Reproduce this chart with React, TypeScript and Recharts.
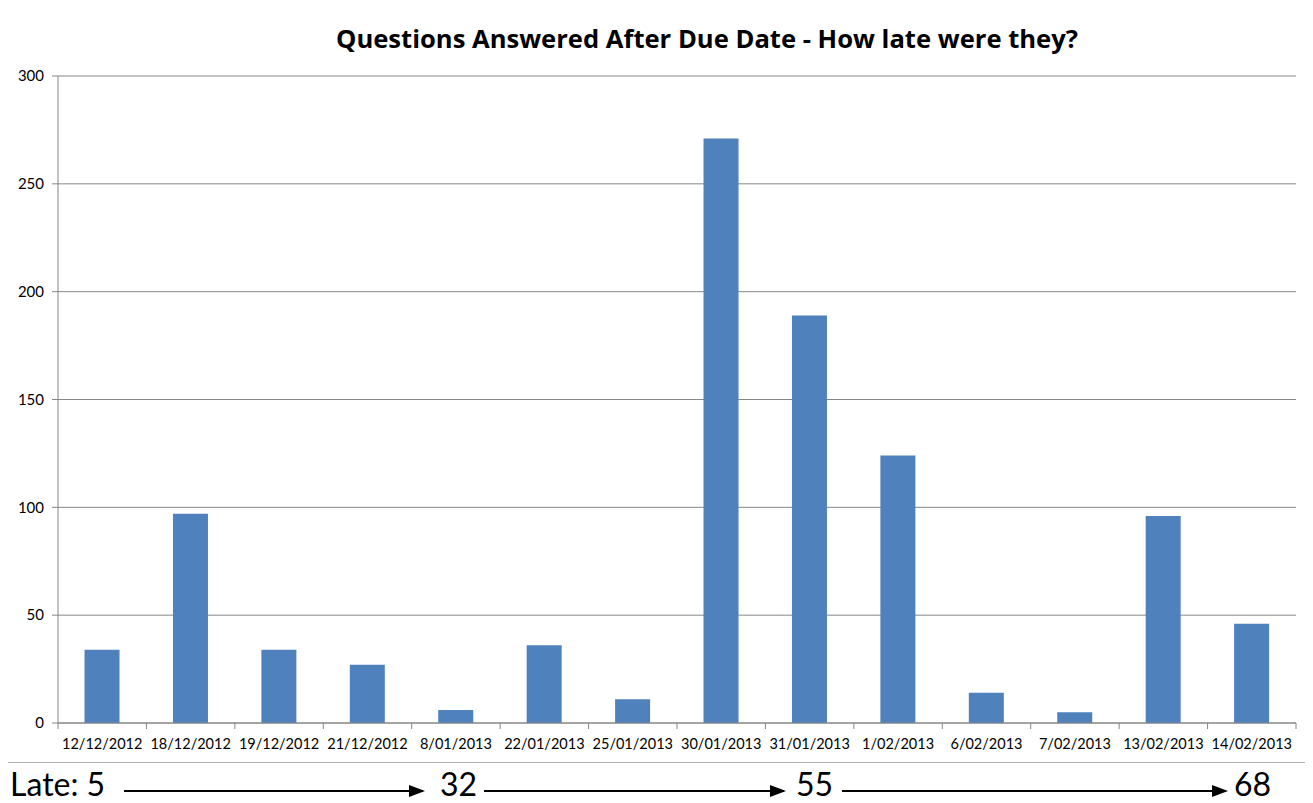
import React from 'react';
import { BarChart, Bar, XAxis, YAxis, CartesianGrid } from 'recharts';

const categories = [
  '12/12/2012', '18/12/2012', '19/12/2012', '21/12/2012', '8/01/2013', '22/01/2013', '25/01/2013',
  '30/01/2013', '31/01/2013', '1/02/2013', '6/02/2013', '7/02/2013', '13/02/2013', '14/02/2013',
];
const values = [34, 97, 34, 27, 6, 36, 11, 271, 189, 124, 14, 5, 96, 46];
const yTicks = [0, 50, 100, 150, 200, 250, 300];
const lateLabels = ['5', '32', '55', '68'];
const title = 'Questions Answered After Due Date - How late were they?';

const data = categories.map((date, i) => ({ date, count: values[i] }));

const W = 1313;
const H = 770;
const PLOT_LEFT = 58;
const PLOT_RIGHT = 1296;
const PLOT_TOP = 76;
const PLOT_BOTTOM = 723;
const GREY = '#868686';
const FONT = 'Lato, "Open Sans", sans-serif';
const TITLE_FONT = '"Open Sans", Lato, sans-serif';

const XTick = (props: any) => {
  const { x, index } = props;
  const band = (PLOT_RIGHT - PLOT_LEFT) / categories.length;
  const label = props.payload?.value;
  return (
    <g>
      <line x1={x - band / 2} x2={x - band / 2} y1={PLOT_BOTTOM} y2={PLOT_BOTTOM + 6} stroke={GREY} />
      {index === categories.length - 1 && (
        <line x1={x + band / 2} x2={x + band / 2} y1={PLOT_BOTTOM} y2={PLOT_BOTTOM + 6} stroke={GREY} />
      )}
      <text x={x} y={PLOT_BOTTOM + 26} textAnchor="middle" fontSize={14.5} fill="#000" fontFamily={FONT}>
        {label}
      </text>
    </g>
  );
};

// annotation layout: text x positions and arrow spans
const lateTextX = [10, 440, 796, 1234];
const arrowSpans = [[124, 425], [484, 786], [842, 1228]];

export default function App() {
  return (
    <div style={{ position: 'relative', width: W, height: 803, margin: '-8px -8px 0 -8px', background: '#fff', overflow: 'hidden' }}>
      <div
        style={{
          position: 'absolute', left: 6, top: 4, width: 1400, height: 759,
          border: '1px solid #b3b3b3', boxSizing: 'border-box',
        }}
      />
      <div style={{ position: 'absolute', left: 0, top: 0 }}>
        <BarChart
          width={W}
          height={H}
          data={data}
          margin={{ top: PLOT_TOP, right: W - PLOT_RIGHT, left: 8, bottom: 17 }}
          barCategoryGap="30%"
        >
          <CartesianGrid vertical={false} stroke={GREY} strokeWidth={1} />
          <XAxis
            dataKey="date"
            height={30}
            stroke={GREY}
            tickLine={false}
            interval={0}
            tick={<XTick />}
          />
          <YAxis
            width={50}
            domain={[0, 300]}
            ticks={yTicks}
            stroke={GREY}
            tickSize={6}
            tickMargin={8}
            interval={0}
            tick={{ fill: '#000', fontSize: 15, fontFamily: FONT }}
          />
          <Bar dataKey="count" fill="#4F81BD" isAnimationActive={false} />
        </BarChart>
      </div>
      <svg width={W} height={803} style={{ position: 'absolute', left: 0, top: 0, pointerEvents: 'none' }}>
        <text x={707} y={48} textAnchor="middle" fontSize={25.6} fontWeight="bold" fontFamily={TITLE_FONT} fill="#000">
          {title}
        </text>
        <defs>
          <marker id="arrowHead" markerWidth="8" markerHeight="6" refX="7" refY="3" orient="auto" markerUnits="strokeWidth">
            <path d="M0,0 L8,3 L0,6 Z" fill="#000" />
          </marker>
        </defs>
        {lateLabels.map((v, i) => (
          <text key={i} x={lateTextX[i]} y={796} fontSize={32} fontFamily={FONT} fill="#000">
            {i === 0 ? `Late: ${v}` : v}
          </text>
        ))}
        {arrowSpans.map(([a, b], i) => (
          <line key={i} x1={a} x2={b - 2} y1={791} y2={791} stroke="#000" strokeWidth={2} markerEnd="url(#arrowHead)" />
        ))}
      </svg>
    </div>
  );
}
